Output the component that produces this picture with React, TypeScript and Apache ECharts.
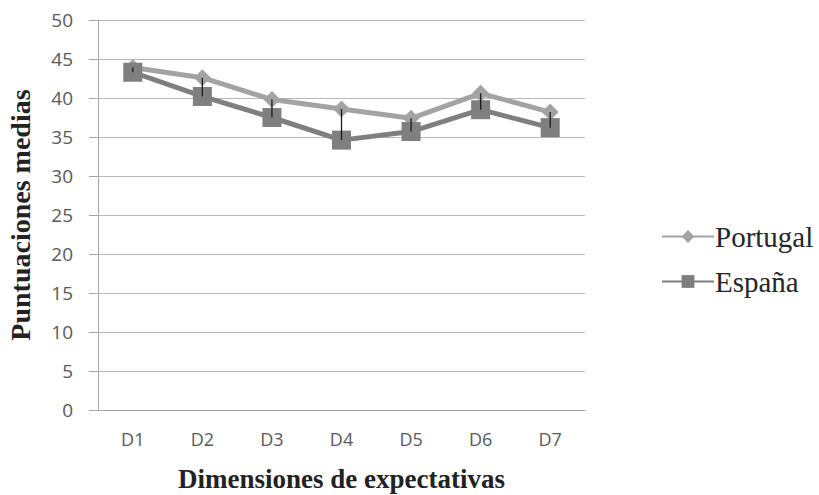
import React, { useEffect, useRef } from "react";
import * as echarts from "echarts";

const categories = ["D1", "D2", "D3", "D4", "D5", "D6", "D7"];
const portugal = [43.9, 42.6, 39.8, 38.6, 37.4, 40.6, 38.2];
const espana = [43.3, 40.2, 37.5, 34.6, 35.7, 38.5, 36.2];
const seriesNames = ["Portugal", "España"];

export default function App() {
  const ref = useRef<HTMLDivElement>(null);
  useEffect(() => {
    if (!ref.current) return;
    const chart = echarts.init(ref.current, null, { renderer: "svg" });
    const hiLo = categories.map((_, i) => [i, portugal[i], espana[i]]);
    chart.setOption({
      animation: false,
      backgroundColor: "#ffffff",
      grid: { left: 98, right: 234, top: 20, bottom: 85, containLabel: false, outerBoundsMode: "none" },
      legend: {
        orient: "vertical",
        left: 656,
        top: 217,
        itemWidth: 52,
        itemHeight: 16,
        itemGap: 16,
        data: seriesNames,
        textStyle: { fontFamily: "Liberation Serif", fontSize: 29, color: "#262626", padding: [0, 0, 0, -4] },
      },
      xAxis: {
        type: "category",
        data: categories,
        boundaryGap: true,
        name: "Dimensiones de expectativas",
        nameLocation: "middle",
        nameGap: 55,
        nameTextStyle: { fontFamily: "Liberation Serif", fontWeight: "bold", fontSize: 27, color: "#222" },
        axisLine: { lineStyle: { color: "#a6a6a6", width: 1 } },
        axisTick: { show: false },
        axisLabel: { margin: 20, fontFamily: "Open Sans", fontSize: 18, color: "#595959" },
      },
      yAxis: {
        type: "value",
        min: 0,
        max: 50,
        interval: 5,
        name: "Puntuaciones medias",
        nameLocation: "middle",
        nameGap: 64,
        nameTextStyle: { fontFamily: "Liberation Serif", fontWeight: "bold", fontSize: 28, color: "#222" },
        axisLine: { show: true, lineStyle: { color: "#a6a6a6", width: 1 } },
        axisTick: { show: true, length: 9, lineStyle: { color: "#a6a6a6" } },
        axisLabel: { margin: 25, fontFamily: "Open Sans", fontSize: 19, color: "#595959" },
        splitLine: { lineStyle: { color: "#b8b8b8", width: 1 } },
      },
      series: [
        {
          name: "Portugal",
          type: "line",
          data: portugal,
          symbol: "diamond",
          symbolSize: 17,
          lineStyle: { color: "#a3a3a3", width: 5 },
          itemStyle: { color: "#a3a3a3" },
          z: 2,
        },
        {
          name: "España",
          type: "line",
          data: espana,
          symbol: "rect",
          symbolSize: 19,
          lineStyle: { color: "#7f7f7f", width: 5 },
          itemStyle: { color: "#7f7f7f" },
          z: 3,
        },
        {
          type: "custom",
          name: "hilo",
          data: hiLo,
          z: 5,
          encode: { x: 0, y: [1, 2] },
          renderItem: (params: any, api: any) => {
            const a = api.coord([api.value(0), api.value(1)]);
            const b = api.coord([api.value(0), api.value(2)]);
            return {
              type: "line",
              shape: { x1: a[0], y1: a[1], x2: b[0], y2: b[1] },
              style: { stroke: "#1a1a1a", lineWidth: 1.3 },
            };
          },
        },
      ],
    });
    return () => chart.dispose();
  }, []);
  return <div ref={ref} style={{ width: 819, height: 495, position: "absolute", left: 0, top: 0 }} />;
}
